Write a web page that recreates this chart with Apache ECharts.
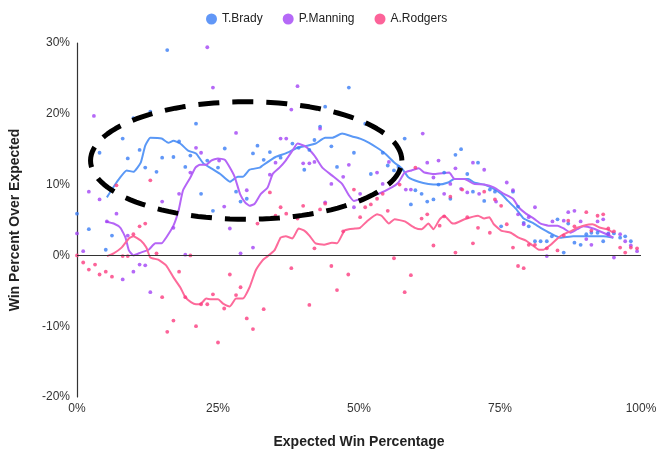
<!DOCTYPE html>
<html>
<head>
<meta charset="utf-8">
<script src="https://cdn.jsdelivr.net/npm/echarts@6/dist/echarts.min.js"></script>
<style>
  html, body { margin: 0; padding: 0; background: #fff; }
  #chart { width: 664px; height: 459px; }
</style>
</head>
<body>
<div id="chart"></div>
<script>
// Win percent over expected vs expected win percentage
var players = ['T.Brady', 'P.Manning', 'A.Rodgers'];
var dotColors = ['#3a7df5', '#a244f5', '#fb3c80'];
var lineColors = ['#5a98f6', '#b565f6', '#fd6a9a'];

// [expected win %, win % over expected]
var bradyDots = [
  [16.0, 29.0], [13.0, 20.3], [10.0, 19.4], [8.1, 16.5], [4.0, 14.5], [11.1, 14.9], [9.0, 13.7],
  [12.1, 12.4], [14.1, 11.8], [15.1, 13.8], [17.1, 13.9], [18.1, 16.1], [20.1, 14.1], [19.2, 12.5],
  [21.1, 18.6], [23.1, 13.4], [25.0, 12.4], [26.2, 15.1], [22.0, 8.7], [28.2, 9.0], [29.0, 7.6],
  [30.1, 8.0], [31.2, 14.4], [32.0, 15.5], [24.1, 6.3], [0.0, 5.9], [2.1, 3.7], [6.2, 2.8], [5.1, 0.8],
  [33.1, 13.5], [34.2, 14.6], [36.1, 13.8], [38.2, 15.8], [39.3, 15.2], [48.2, 23.7], [44.0, 21.0],
  [43.1, 18.2], [42.1, 16.3], [45.1, 15.4], [40.3, 12.1], [41.2, 14.9], [46.1, 12.5], [49.1, 14.5],
  [51.1, 18.6], [54.2, 14.5], [52.1, 11.5], [55.1, 12.7], [56.2, 12.0], [57.0, 12.5], [58.1, 16.5],
  [59.2, 7.2], [60.0, 9.2], [61.1, 8.7], [62.1, 7.6], [63.2, 7.9], [64.1, 10.0], [65.1, 11.7],
  [66.2, 8.0], [67.1, 14.2], [68.1, 15.0], [69.2, 11.5], [70.2, 9.0], [71.1, 13.1], [72.2, 7.7],
  [73.2, 9.3], [74.1, 9.0], [75.2, 4.1], [77.3, 9.0], [78.2, 6.9], [79.2, 4.6], [80.1, 4.1],
  [81.2, 2.0], [82.2, 2.0], [83.3, 2.0], [84.2, 2.7], [85.2, 5.1], [87.1, 4.5], [86.3, 0.4],
  [88.2, 1.8], [89.3, 1.5], [90.3, 3.0], [91.2, 3.2], [92.3, 3.2], [93.3, 2.0], [94.2, 3.1],
  [95.2, 3.1], [96.3, 2.5], [97.2, 2.7], [98.2, 2.0]
];
var manningDots = [
  [23.1, 29.4], [3.0, 19.7], [24.1, 23.7], [28.2, 17.3], [21.1, 15.2], [22.0, 14.5], [25.2, 13.4],
  [20.1, 11.7], [2.1, 9.0], [4.0, 7.9], [15.1, 7.6], [18.1, 8.7], [26.1, 6.9], [30.1, 9.2],
  [7.0, 5.9], [0.0, 3.1], [1.1, 0.6], [5.3, 4.8], [9.0, 2.8], [10.0, -2.3], [11.1, -1.3], [12.1, -1.4],
  [13.0, -5.2], [8.1, -3.4], [17.1, 3.9], [19.2, 0.1], [27.1, 3.8], [29.0, 0.3], [31.2, 1.1],
  [38.0, 20.6], [36.1, 16.5], [37.1, 16.5], [34.2, 11.4], [35.2, 13.1], [39.1, 23.9], [43.1, 17.9],
  [40.1, 13.0], [41.2, 13.0], [42.1, 13.2], [48.2, 12.8], [47.2, 11.1], [45.1, 10.1], [55.3, 13.2],
  [61.3, 17.2], [62.1, 13.1], [64.1, 13.4], [63.2, 11.0], [58.3, 9.3], [59.2, 9.3], [65.1, 8.7],
  [54.2, 10.1], [50.2, 8.7], [44.0, 7.5], [49.1, 6.8], [53.2, 11.7], [67.1, 12.3], [66.2, 10.1],
  [70.2, 13.1], [72.2, 12.1], [68.1, 9.4], [69.2, 8.9], [71.3, 8.7], [74.3, 7.6], [76.2, 10.3],
  [77.3, 9.2], [78.2, 5.8], [79.2, 4.4], [81.2, 6.8], [80.1, 5.4], [84.3, 4.8], [86.3, 4.9],
  [87.1, 6.1], [88.2, 6.3], [89.3, 4.8], [90.3, 2.3], [91.2, 1.5], [92.3, 4.8], [93.3, 5.1],
  [94.2, 3.0], [95.2, -0.3], [96.3, 3.0], [97.2, 2.0], [98.2, 1.4], [99.3, 0.6], [83.3, -0.1]
];
var rodgersDots = [
  [7.0, 9.9], [13.0, 10.6], [0.0, 0.0], [1.1, -1.0], [2.1, -2.0], [3.2, -1.3], [4.0, -2.7],
  [5.1, -2.3], [6.2, -3.0], [8.1, -0.1], [9.0, -0.1], [10.0, 3.0], [11.1, 4.1], [12.1, 4.5],
  [14.1, 0.3], [15.1, -5.9], [16.0, -10.8], [17.1, -9.2], [18.1, -2.3], [19.2, -5.9], [20.1, 0.0],
  [21.1, -10.0], [22.0, -6.9], [23.1, -6.9], [24.1, -5.5], [25.0, -12.3], [26.1, -7.5], [27.1, -2.7],
  [28.2, -5.6], [29.0, -4.5], [30.1, -8.9], [31.2, -10.4], [32.0, 4.5], [33.1, -7.6], [35.2, 5.6],
  [36.1, 6.8], [37.1, 5.9], [38.0, -1.8], [39.1, 5.2], [40.1, 7.0], [41.2, -7.0], [42.1, 1.0],
  [43.1, 6.5], [44.0, 7.3], [45.1, -1.5], [46.1, -4.9], [47.2, 3.4], [48.1, -2.7], [50.2, 5.4],
  [51.1, 6.8], [52.1, 7.2], [55.1, 6.3], [56.2, -0.4], [58.1, -5.2], [59.2, -2.8], [61.1, 5.2],
  [62.1, 5.8], [63.2, 1.4], [64.3, 4.2], [65.1, 5.5], [49.1, 9.3], [54.2, 8.7], [57.2, 10.0],
  [60.0, 12.4], [66.2, 8.3], [34.2, 8.9], [53.2, 8.0], [68.3, 9.3], [69.2, 5.4], [67.1, 0.4],
  [70.2, 1.7], [71.1, 3.9], [72.2, 9.0], [73.2, 3.2], [74.1, 7.9], [75.2, 7.0], [76.2, 4.4],
  [77.3, 1.1], [78.2, -1.5], [79.2, -1.8], [80.1, 1.5], [81.2, 1.5], [83.3, 1.0], [85.2, 0.7],
  [86.3, 2.8], [87.1, 4.9], [88.2, 4.1], [90.3, 6.1], [91.2, 3.5], [92.3, 5.6], [93.3, 5.8],
  [94.2, 3.8], [95.2, 3.4], [96.3, 1.1], [97.2, 0.4], [98.2, 1.1], [99.3, 1.0]
];

// rolling trend lines
var bradyLine = [
  [5.3, 8.2], [7.0, 10.3], [8.8, 12.0], [10.0, 11.8], [11.3, 13.1], [12.1, 15.5], [13.0, 16.6],
  [15.0, 16.5], [16.2, 15.9], [17.1, 16.2], [18.3, 15.8], [19.7, 14.8], [21.1, 14.4], [22.4, 13.0],
  [23.6, 12.4], [25.4, 11.5], [27.1, 10.4], [28.5, 11.1], [29.4, 11.1], [30.6, 12.1], [32.4, 12.4],
  [32.9, 12.7], [35.2, 13.9], [37.0, 14.4], [39.1, 15.2], [40.8, 15.5], [42.3, 15.8], [44.0, 16.6],
  [45.2, 16.6], [47.0, 17.2], [48.8, 16.8], [50.2, 16.5], [51.8, 15.9], [53.2, 15.2], [54.6, 14.4],
  [56.3, 13.1], [57.6, 12.3], [58.8, 11.0], [60.6, 10.4], [62.3, 10.1], [64.1, 10.0], [65.8, 10.3],
  [66.9, 10.8], [69.4, 10.8], [70.4, 10.3], [72.2, 10.0], [73.9, 9.4], [75.2, 8.7], [76.4, 7.7],
  [77.8, 6.6], [79.2, 5.2], [80.8, 4.6], [82.2, 3.9], [84.0, 3.1], [85.7, 2.5], [88.0, 2.7],
  [89.8, 2.7], [91.5, 2.7], [93.3, 2.7], [95.1, 2.5]
];
var manningLine = [
  [5.1, 4.8], [6.5, 4.5], [7.7, 3.9], [8.6, 2.5], [9.2, 0.7], [10.0, 0.0], [11.3, 0.4], [12.7, 0.8],
  [13.9, 1.7], [15.0, 1.7], [15.8, 2.5], [17.1, 4.2], [18.0, 6.3], [18.8, 9.2], [20.1, 11.0],
  [21.0, 12.4], [21.8, 12.8], [22.9, 12.8], [23.8, 13.4], [25.0, 13.7], [26.2, 13.5], [27.1, 12.4],
  [28.0, 11.0], [28.9, 8.7], [29.8, 7.5], [30.6, 7.0], [31.5, 7.3], [32.6, 8.7], [33.8, 9.6],
  [34.7, 11.5], [35.9, 12.4], [37.0, 13.4], [38.2, 14.8], [39.1, 15.8], [40.5, 15.4], [42.1, 14.1],
  [43.5, 12.4], [45.2, 11.3], [47.0, 10.1], [48.2, 8.5], [49.1, 7.7], [51.1, 8.2], [53.5, 8.7],
  [55.8, 9.6], [57.0, 10.3], [58.1, 11.7], [59.3, 12.0], [60.6, 12.3], [61.6, 11.7], [63.4, 11.5],
  [66.0, 11.7], [66.9, 10.8], [68.7, 10.8], [70.4, 10.1], [72.2, 10.0], [73.9, 9.6], [75.7, 8.7],
  [77.3, 8.0], [78.3, 6.8], [79.6, 5.9], [81.0, 5.2], [82.2, 4.5], [83.6, 4.2], [85.2, 4.2],
  [86.3, 3.8], [87.5, 3.2], [88.7, 3.7], [89.8, 4.1], [91.5, 3.8], [93.3, 3.2], [95.1, 2.5]
];
var rodgersLine = [
  [5.3, -0.1], [6.5, 0.3], [7.9, 1.1], [9.2, 2.4], [10.0, 2.7], [11.3, 2.1], [12.3, 1.1], [13.0, -0.3],
  [14.4, -0.6], [15.8, -1.4], [17.1, -3.1], [18.3, -4.5], [19.2, -5.9], [20.2, -6.6], [21.1, -6.9],
  [22.0, -6.8], [22.9, -6.1], [23.8, -6.2], [25.0, -6.2], [25.9, -6.8], [27.1, -7.2], [28.2, -6.1],
  [29.4, -6.1], [30.6, -4.5], [31.7, -2.1], [32.9, -0.7], [33.5, -0.3], [35.0, 0.7], [36.1, 2.5],
  [37.0, 2.7], [38.2, 2.4], [39.3, 3.8], [40.3, 3.5], [41.2, 2.8], [42.3, 1.7], [43.8, 1.5],
  [45.2, 1.8], [46.1, 1.7], [47.4, 3.5], [48.2, 3.7], [49.3, 3.8], [50.2, 3.9], [51.4, 4.8],
  [53.2, 5.8], [54.0, 5.6], [55.3, 4.5], [56.3, 5.1], [58.1, 4.8], [59.9, 3.9], [61.1, 3.7],
  [62.3, 4.5], [63.2, 3.7], [64.3, 5.1], [65.1, 5.6], [66.4, 4.6], [66.9, 4.5], [68.7, 5.1],
  [71.1, 5.6], [72.2, 5.2], [73.1, 5.4], [73.9, 4.4], [75.2, 3.5], [76.9, 3.2], [78.3, 2.5],
  [79.6, 2.1], [80.8, 1.4], [81.9, 0.8], [82.7, 0.8], [84.0, 1.5], [85.2, 2.4], [86.3, 3.0],
  [87.5, 3.4], [88.7, 3.9], [89.8, 4.2], [91.4, 4.4], [92.8, 3.9], [94.0, 3.7], [95.1, 3.2]
];

var xTicks = [0, 25, 50, 75, 100];
var yTicks = [-20, -10, 0, 10, 20, 30];

// highlight ellipse (data units): center, radii
var ellipse = { cx: 30.0, cy: 13.4, rx: 27.6, ry: 8.3 };
var ellipsePts = [];
for (var i = 0; i <= 120; i++) {
  var t = i / 120 * Math.PI * 2;
  ellipsePts.push([ellipse.cx + ellipse.rx * Math.cos(t), ellipse.cy + ellipse.ry * Math.sin(t)]);
}

var font = 'Liberation Sans, Arial, sans-serif';
var dots = [bradyDots, manningDots, rodgersDots];
var lines = [bradyLine, manningLine, rodgersLine];

var series = [];
players.forEach(function(p, i) {
  series.push({
    name: p,
    type: 'scatter',
    data: dots[i],
    symbol: 'circle',
    symbolSize: 3.8,
    itemStyle: { color: dotColors[i] },
    z: 3
  });
});
players.forEach(function(p, i) {
  series.push({
    name: p,
    type: 'line',
    data: lines[i],
    showSymbol: false,
    smooth: 0.15,
    lineStyle: { color: lineColors[i], width: 2 },
    itemStyle: { color: dotColors[i] },
    z: 2
  });
});
series.push({
  name: 'highlight',
  type: 'line',
  data: ellipsePts,
  showSymbol: false,
  silent: true,
  lineStyle: { color: '#000', width: 5, type: [21, 13], cap: 'butt' },
  z: 4
});
// zero baseline
series[0].markLine = {
  silent: true,
  symbol: 'none',
  label: { show: false },
  lineStyle: { color: '#333', width: 1.2, type: 'solid' },
  data: [{ yAxis: 0 }]
};

var chart = echarts.init(document.getElementById('chart'), null, { renderer: 'canvas' });
chart.setOption({
  animation: false,
  backgroundColor: '#fff',
  textStyle: { fontFamily: font },
  legend: {
    data: players.map(function(p) { return { name: p, icon: 'circle' }; }),
    top: 8,
    left: 201,
    itemWidth: 11,
    itemHeight: 11,
    itemGap: 20,
    textStyle: { color: '#222', fontSize: 12, fontFamily: font }
  },
  grid: { left: 72, right: 23, top: 43, bottom: 62, containLabel: false },
  xAxis: {
    type: 'value',
    min: xTicks[0],
    max: xTicks[xTicks.length - 1],
    interval: 25,
    name: 'Expected Win Percentage',
    nameLocation: 'middle',
    nameGap: 38,
    nameTextStyle: { color: '#222', fontSize: 14, fontWeight: 'bold', fontFamily: font },
    axisLine: { show: false },
    axisTick: { show: false },
    splitLine: { show: false },
    axisLabel: { color: '#333', fontSize: 12, margin: 6, formatter: '{value}%' }
  },
  yAxis: {
    type: 'value',
    min: yTicks[0],
    max: yTicks[yTicks.length - 1],
    interval: 10,
    name: 'Win Percent Over Expected',
    nameLocation: 'middle',
    nameGap: 55,
    nameTextStyle: { color: '#222', fontSize: 14, fontWeight: 'bold', fontFamily: font },
    axisLine: { show: true, onZero: false, lineStyle: { color: '#333', width: 1.2 } },
    axisTick: { show: false },
    splitLine: { show: false },
    axisLabel: { color: '#333', fontSize: 12, margin: 7, formatter: '{value}%' }
  },
  series: series
});
</script>
</body>
</html>
